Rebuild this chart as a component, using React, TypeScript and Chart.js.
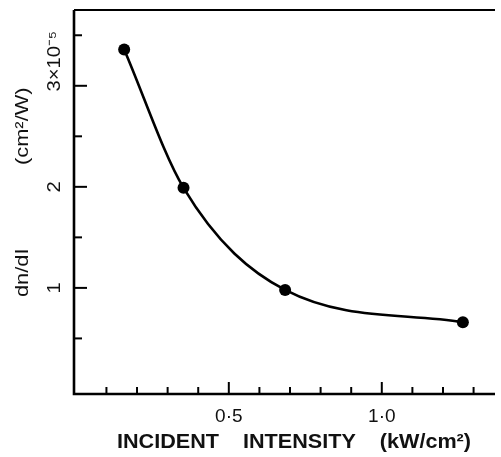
import React, { useEffect, useRef } from 'react';
import { Chart, registerables } from 'chart.js';

Chart.register(...registerables);

// Data
const intensity = [0.158, 0.352, 0.684, 1.265]; // kW/cm²
const dndI = [3.36, 1.99, 0.98, 0.66]; // ×10⁻⁵ cm²/W

const xMajorTicks = [0.5, 1.0];
const xTickLabels = ['0·5', '1·0'];
const yMajorTicks = [1, 2, 3];
const yTickLabels = ['1', '2', '3×10⁻⁵'];
const xTitle = 'INCIDENT    INTENSITY    (kW/cm²)';
const yTitleLower = 'dn/dI';
const yTitleUpper = '(cm²/W)';

const FONT = '"Liberation Sans", Arial, sans-serif';

const framePlugin = {
  id: 'frame',
  afterDraw(chart: any) {
    const { ctx, chartArea } = chart;
    const { left, right, top, bottom } = chartArea;
    const xs = chart.scales.x;
    const ys = chart.scales.y;
    ctx.save();
    ctx.strokeStyle = '#000';
    ctx.lineCap = 'butt';
    // axes
    ctx.lineWidth = 2.6;
    ctx.beginPath();
    ctx.moveTo(left, top);
    ctx.lineTo(left, bottom);
    ctx.lineTo(right, bottom);
    ctx.stroke();
    ctx.lineWidth = 1.8;
    ctx.beginPath();
    ctx.moveTo(left, top);
    ctx.lineTo(right, top);
    ctx.stroke();
    // x ticks (inward)
    ctx.lineWidth = 2;
    for (let i = 1; i <= 13; i++) {
      const v = i / 10;
      const px = xs.getPixelForValue(v);
      const len = i % 5 === 0 ? 12 : 7;
      ctx.beginPath();
      ctx.moveTo(px, bottom);
      ctx.lineTo(px, bottom - len);
      ctx.stroke();
    }
    // y ticks (inward)
    for (let i = 1; i <= 7; i++) {
      const v = i / 2;
      const py = ys.getPixelForValue(v);
      const len = i % 2 === 0 ? 13 : 8;
      ctx.beginPath();
      ctx.moveTo(left, py);
      ctx.lineTo(left + len, py);
      ctx.stroke();
    }
    // y tick labels, rotated
    ctx.fillStyle = '#111';
    ctx.font = `18px ${FONT}`;
    ctx.textBaseline = 'middle';
    yMajorTicks.forEach((v, i) => {
      const py = ys.getPixelForValue(v);
      const label = yTickLabels[i];
      const first = ctx.measureText(label.charAt(0)).width * 1.12;
      ctx.save();
      ctx.translate(left - 19, py);
      ctx.rotate(-Math.PI / 2);
      ctx.scale(1.12, 1);
      ctx.textAlign = 'left';
      ctx.fillText(label, -first / 2 / 1.12, 0);
      ctx.restore();
    });
    // y titles, rotated
    ctx.font = `19px ${FONT}`;
    ctx.textAlign = 'center';
    const drawRot = (text: string, x: number, y: number) => {
      ctx.save();
      ctx.translate(x, y);
      ctx.rotate(-Math.PI / 2);
      ctx.scale(1.15, 1);
      ctx.fillText(text, 0, 0);
      ctx.restore();
    };
    drawRot(yTitleLower, 23, ys.getPixelForValue(1.15));
    drawRot(yTitleUpper, 23, ys.getPixelForValue(2.6));
    // x title
    ctx.font = `bold 20px ${FONT}`;
    ctx.textAlign = 'center';
    ctx.save();
    ctx.translate(294, 442);
    ctx.scale(1.08, 1);
    ctx.fillText(xTitle, 0, 0);
    ctx.restore();
    ctx.restore();
  },
};

export default function App() {
  const ref = useRef<HTMLCanvasElement>(null);
  useEffect(() => {
    document.body.style.margin = '0';
    const canvas = ref.current;
    if (!canvas) return;
    const chart = new Chart(canvas, {
      type: 'line',
      data: {
        datasets: [
          {
            data: intensity.map((x, i) => ({ x, y: dndI[i] })),
            borderColor: '#000',
            backgroundColor: '#000',
            borderWidth: 2.6,
            pointRadius: 6,
            pointBackgroundColor: '#000',
            pointBorderWidth: 0,
            cubicInterpolationMode: 'monotone',
            fill: false,
          },
        ],
      },
      options: {
        animation: false,
        responsive: true,
        maintainAspectRatio: false,
        layout: { padding: { top: 10, right: 0, left: 0, bottom: 0 } },
        plugins: { legend: { display: false }, tooltip: { enabled: false } },
        scales: {
          x: {
            type: 'linear',
            min: -0.006,
            max: 1.37,
            grid: { display: false, drawTicks: false },
            border: { display: false },
            afterBuildTicks: (scale: any) => {
              scale.ticks = xMajorTicks.map((v) => ({ value: v }));
            },
            afterFit: (scale: any) => {
              scale.height = 63;
            },
            ticks: {
              autoSkip: false,
              maxRotation: 0,
              padding: 11,
              color: '#111',
              font: { family: FONT, size: 19 },
              callback: (value: any) => {
                const idx = xMajorTicks.findIndex((t) => Math.abs(t - Number(value)) < 1e-6);
                return idx >= 0 ? xTickLabels[idx] : '';
              },
            },
          },
          y: {
            type: 'linear',
            min: -0.05,
            max: 3.75,
            grid: { display: false, drawTicks: false },
            border: { display: false },
            ticks: { display: false },
            afterFit: (scale: any) => {
              scale.width = 74;
            },
          },
        },
      },
      plugins: [framePlugin],
    } as any);
    return () => chart.destroy();
  }, []);
  return (
    <div style={{ width: 501, height: 457, position: 'relative' }}>
      <canvas ref={ref} />
    </div>
  );
}
